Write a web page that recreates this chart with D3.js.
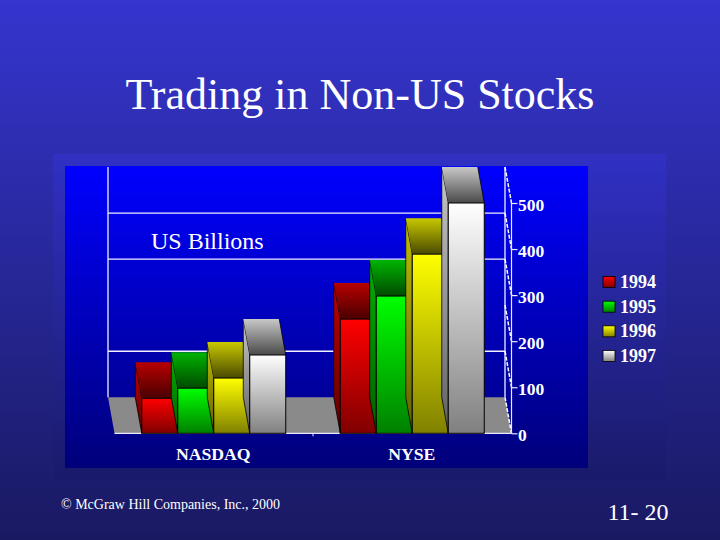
<!DOCTYPE html>
<html><head><meta charset="utf-8">
<script src="https://cdn.jsdelivr.net/npm/d3@7"></script>
<style>html,body{margin:0;padding:0;background:#191966}svg{display:block}text{font-family:"Liberation Serif",serif;fill:#fff}</style>
</head><body><svg id="c" width="720" height="540"></svg>
<script>
const categories = ["NASDAQ", "NYSE"];
const years = ["1994", "1995", "1996", "1997"];
const values1994 = [76, 248];
const values1995 = [98, 298];
const values1996 = [120, 389];
const values1997 = [170, 500];
const yTicks = [0, 100, 200, 300, 400, 500];
const gridValues = [100, 300, 400];
const series = [values1994, values1995, values1996, values1997];
const palette = [
  {front:["#ff0000","#800000"], top:["#b80000","#4a0000"], side:["#c00000","#600000"]},
  {front:["#00ff00","#008000"], top:["#00b400","#004a00"], side:["#00b000","#006000"]},
  {front:["#ffff00","#808000"], top:["#c8c800","#4a4a00"], side:["#c0c000","#606000"]},
  {front:["#ffffff","#808080"], top:["#c8c8c8","#4a4a4a"], side:["#c8c8c8","#606060"]}
];
const svg = d3.select("#c");
const defs = svg.append("defs");
function grad(id, a, b){
  const g = defs.append("linearGradient").attr("id",id).attr("x1",0).attr("y1",0).attr("x2",0).attr("y2",1);
  g.append("stop").attr("offset",0).attr("stop-color",a);
  g.append("stop").attr("offset",1).attr("stop-color",b);
}
grad("slide","#3535cf","#191962");
grad("outer","#3030c4","#1a1a6a");
grad("panel","#0000ff","#00007a");
palette.forEach((p,i)=>{grad("f"+i,p.front[0],p.front[1]);grad("t"+i,p.top[0],p.top[1]);grad("s"+i,p.side[0],p.side[1]);});

const y = d3.scaleLinear().domain([0,500]).range([433.3,203]);
const x0 = d3.scaleBand().domain(categories).range([114.5,511.5]);
const x1 = d3.scaleBand().domain(years).range([-72,72]);
const dx = -6.5, dy = -36;
const pts = a => a.map(p=>p.join(",")).join(" ");

svg.append("rect").attr("width",720).attr("height",540).attr("fill","url(#slide)");
svg.append("rect").attr("x",53).attr("y",154).attr("width",613).attr("height",326).attr("fill","url(#outer)");
svg.append("rect").attr("x",65).attr("y",166).attr("width",523).attr("height",302).attr("fill","url(#panel)");

const L = x0.range()[0], R = x0.range()[1];
// back wall grid
svg.selectAll(".grid").data(gridValues).join("line").attr("class","grid")
  .attr("x1",L+dx).attr("x2",R+dx).attr("y1",d=>y(d)+dy).attr("y2",d=>y(d)+dy)
  .attr("stroke","#f0f0ff").attr("stroke-width",1.3);
svg.append("line").attr("x1",L+dx).attr("x2",L+dx).attr("y1",y(0)+dy).attr("y2",y(500)+dy).attr("stroke","#f0f0ff").attr("stroke-width",1.3);
svg.append("line").attr("x1",R+dx).attr("x2",R+dx).attr("y1",y(0)+dy).attr("y2",y(500)+dy).attr("stroke","#f0f0ff").attr("stroke-width",1.3);
// floor
svg.append("polygon").attr("fill","#8a8a8a")
  .attr("points",pts([[L+dx,y(0)+dy],[R+dx,y(0)+dy],[R,y(0)],[L,y(0)]]));
// side wall dashed lines
svg.selectAll(".wall").data(yTicks).join("line").attr("class","wall")
  .attr("x1",R+dx).attr("x2",R).attr("y1",d=>y(d)+dy).attr("y2",d=>y(d))
  .attr("stroke","#fff").attr("stroke-width",1.5).attr("stroke-dasharray","4 1.5");
// axes lines
svg.append("line").attr("x1",L).attr("x2",R).attr("y1",y(0)).attr("y2",y(0)).attr("stroke","#e8e8ff").attr("stroke-width",1.3);
svg.append("line").attr("x1",x0("NYSE")).attr("x2",x0("NYSE")).attr("y1",y(0)).attr("y2",y(0)+3).attr("stroke","#e8e8ff");
svg.append("line").attr("x1",R).attr("x2",R).attr("y1",y(500)).attr("y2",y(0)).attr("stroke","#e8e8ff").attr("stroke-width",1.2);

// bars
categories.forEach((c,ci)=>{
  years.forEach((yr,si)=>{
    const v = series[si][ci];
    const x = x0(c)+x0.bandwidth()/2+x1(yr), w = x1.bandwidth(), t = y(v), b = y(0);
    const g = svg.append("g").attr("class","bar");
    g.append("polygon").attr("fill",`url(#s${si})`).attr("stroke","#000").attr("stroke-width",.8)
      .attr("points",pts([[x,t],[x+dx,t+dy],[x+dx,b+dy],[x,b]]));
    g.append("polygon").attr("fill",`url(#t${si})`)
      .attr("points",pts([[x,t],[x+dx,t+dy],[x+w+dx,t+dy],[x+w,t]]));
    g.append("line").attr("x1",x+w).attr("y1",t).attr("x2",x+w+dx).attr("y2",t+dy).attr("stroke","#000").attr("stroke-width",.8);
    g.append("rect").attr("x",x).attr("y",t).attr("width",w).attr("height",b-t)
      .attr("fill",`url(#f${si})`).attr("stroke","#000").attr("stroke-width",1);
  });
});

// value axis
const axis = svg.append("g").attr("transform",`translate(${R},0)`)
  .call(d3.axisRight(y).tickValues(yTicks).tickSize(6).tickPadding(0).tickFormat(d3.format("d")));
axis.select(".domain").remove();
axis.selectAll("line").attr("stroke","#e8e8ff").attr("stroke-width",1.2);
axis.selectAll("text").attr("x",6.5).attr("dy",null).attr("y",0)
  .attr("dominant-baseline",null).attr("transform","translate(0,7)")
  .style("font-family","'Liberation Serif',serif").style("font-size","17.5px").style("font-weight","bold").attr("fill","#fff");

// category labels
svg.selectAll(".cat").data(categories).join("text").attr("class","cat")
  .attr("x",d=>x0(d)+x0.bandwidth()/2-0.5).attr("y",460).attr("text-anchor","middle")
  .style("font-size","17.7px").style("font-weight","bold").text(d=>d);

// legend
const legY = d3.scalePoint().domain(years).range([282,356]);
const leg = svg.selectAll(".leg").data(years).join("g").attr("class","leg").attr("transform",d=>`translate(0,${legY(d)})`);
leg.append("rect").attr("x",603).attr("y",-5.5).attr("width",12).attr("height",11)
  .attr("fill",(d,i)=>`url(#f${i})`).attr("stroke","#000").attr("stroke-width",.8);
leg.append("text").attr("x",620).attr("y",6).style("font-size","18px").style("font-weight","bold").text(d=>d);

// texts
svg.append("text").attr("x",360).attr("y",109).attr("text-anchor","middle").style("font-size","44px").text("Trading in Non-US Stocks");
svg.append("text").attr("x",151).attr("y",249).style("font-size","24px").text("US Billions");
svg.append("text").attr("x",61).attr("y",509).style("font-size","14px").text("© McGraw Hill Companies, Inc., 2000");
svg.append("text").attr("x",607.5).attr("y",520).style("font-size","24px").text("11- 20");
</script></body></html>
